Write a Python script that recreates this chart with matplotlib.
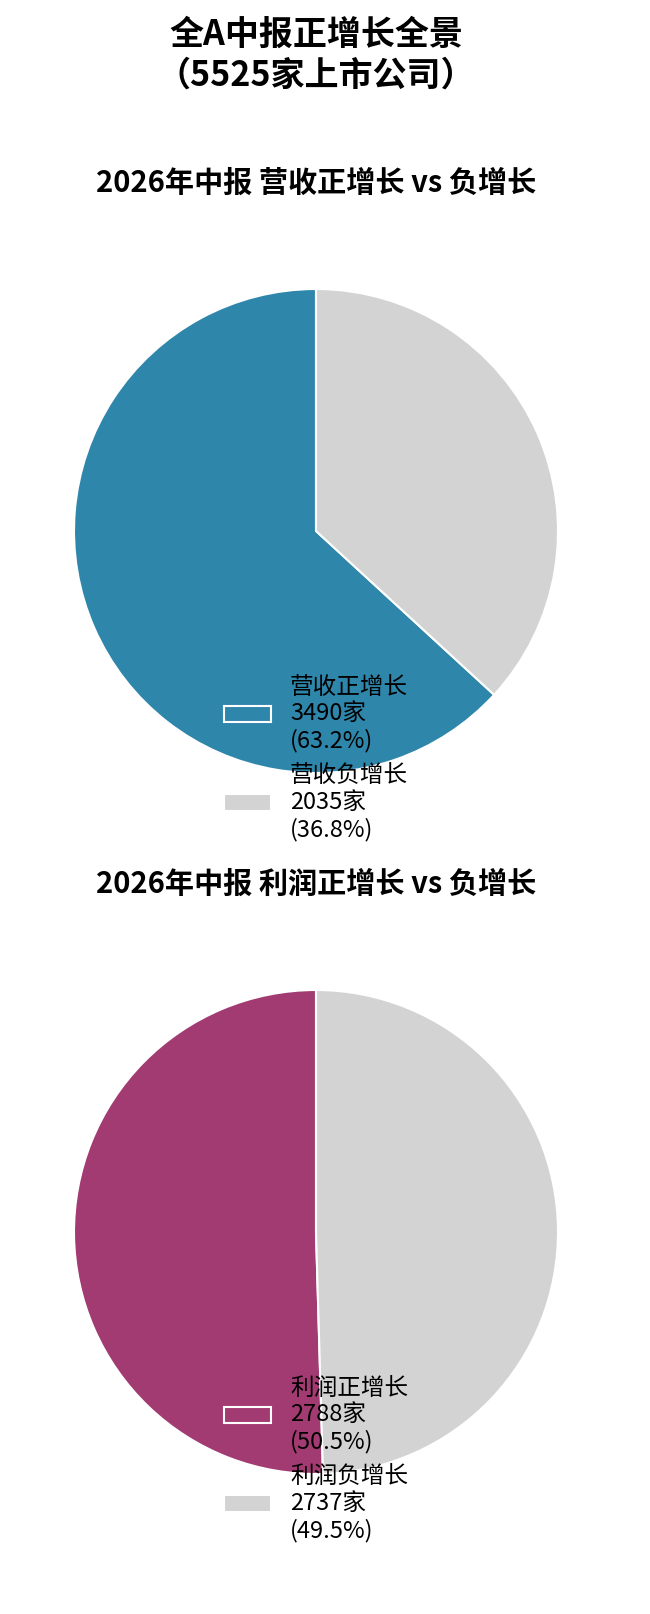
import matplotlib
matplotlib.use("Agg")
import matplotlib.pyplot as plt

plt.rcParams['font.family'] = ['Noto Sans CJK SC', 'DejaVu Sans']

total = 5525
rev_labels = ["营收正增长", "营收负增长"]
rev_counts = [3490, 2035]
profit_labels = ["利润正增长", "利润负增长"]
profit_counts = [2788, 2737]

rev_colors = ["#2E86AB", "#D3D3D3"]
profit_colors = ["#A23B72", "#D3D3D3"]

W, H = 650, 1615
fig = plt.figure(figsize=(W / 100, H / 100), dpi=100)
fig.text(316 / W, 1 - 55 / H, "全A中报正增长全景\n（%d家上市公司）" % total,
         ha='center', va='center', fontsize=24.5, fontweight='bold', linespacing=1.2)


def draw_pie(cy, title, labels, counts, colors):
    r = 242
    cx = 316
    ax = fig.add_axes([(cx - r) / W, 1 - (cy + r) / H, 2 * r / W, 2 * r / H])
    ax.pie(counts, colors=colors, startangle=90,
           wedgeprops=dict(edgecolor='white', linewidth=1.5))
    ax.set_xlim(-1, 1)
    ax.set_ylim(-1, 1)
    ax.set_aspect('equal')
    fig.text(cx / W, 1 - (cy - 349) / H, title, ha='center', va='center',
             fontsize=21, fontweight='bold')
    s = sum(counts)
    leg_labels = ["%s\n%d家\n(%.1f%%)" % (l, c, c / s * 100) for l, c in zip(labels, counts)]
    ax.legend(ax.patches, leg_labels, loc='lower center',
              bbox_to_anchor=(0.5, -0.183), frameon=False, fontsize=17)
    return ax


draw_pie(532, "2026年中报 营收正增长 vs 负增长", rev_labels, rev_counts, rev_colors)
draw_pie(1233, "2026年中报 利润正增长 vs 负增长", profit_labels, profit_counts, profit_colors)

plt.savefig("out.png", dpi=100)
